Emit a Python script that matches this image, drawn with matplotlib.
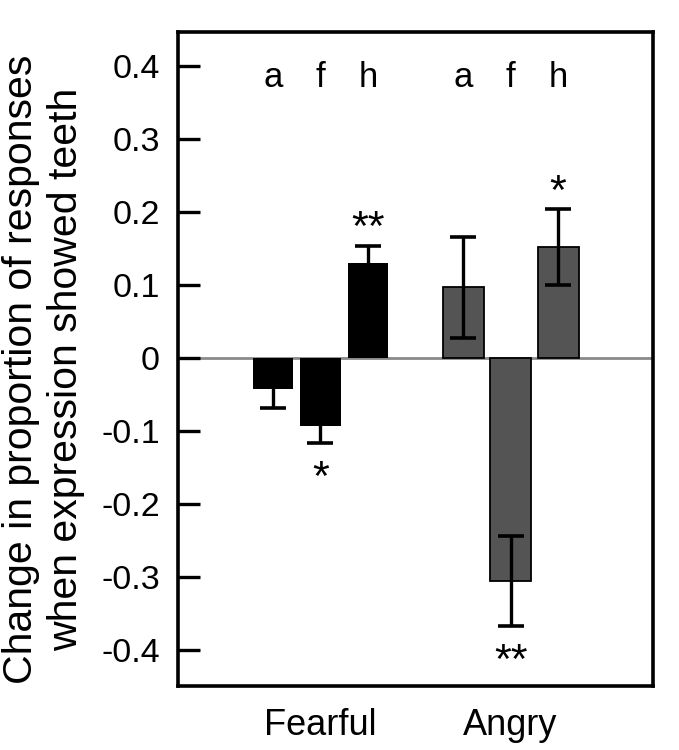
import numpy as np
import matplotlib
matplotlib.use("Agg")
import matplotlib.pyplot as plt

plt.rcParams['font.family'] = ['Liberation Sans', 'DejaVu Sans']

# data
groups = ["Fearful", "Angry"]
conditions = ["a", "f", "h"]
fearful_vals = [-0.043, -0.093, 0.131]
fearful_err = [0.025, 0.024, 0.023]
angry_vals = [0.097, -0.306, 0.152]
angry_err = [0.069, 0.062, 0.052]
fearful_stars = ["", "*", "**"]
angry_stars = ["", "**", "*"]

x_f = np.arange(3)
x_a = np.arange(3) + 4
width = 0.86

fig = plt.figure(figsize=(6.79, 7.5), dpi=100)
ax = fig.add_axes([0.262, 0.0853, 0.700, 0.8727])

ax.axhline(0, color='#8a8a8a', lw=2.0, zorder=1)

ax.bar(x_f, fearful_vals, width, color='black', zorder=2)
ax.bar(x_a, angry_vals, width, color='#545454', edgecolor='black', lw=1.3, zorder=2)

# inner half of the fearful error bars is hidden by the black bars
ekw = dict(fmt='none', ecolor='black', elinewidth=2.4, capsize=9.4, capthick=2.6, zorder=3)
ax.errorbar(x_f, fearful_vals, yerr=fearful_err, **ekw)
ax.errorbar(x_a, angry_vals, yerr=angry_err, **ekw)

for xs, vals, errs, stars in [(x_f, fearful_vals, fearful_err, fearful_stars),
                              (x_a, angry_vals, angry_err, angry_stars)]:
    for x, v, e, s in zip(xs, vals, errs, stars):
        if not s:
            continue
        y = v + e + 0.029 if v > 0 else v - e - 0.043
        ax.text(x, y, s, ha='center', va='center_baseline', fontsize=31)

for xs in (x_f, x_a):
    for x, c in zip(xs, conditions):
        ax.text(x, 0.372, c, ha='center', va='baseline', fontsize=25)

ax.set_xlim(-2, 8)
ax.set_ylim(-0.45, 0.448)
ax.set_yticks([0.4, 0.3, 0.2, 0.1, 0, -0.1, -0.2, -0.3, -0.4])
ax.set_yticklabels(["0.4", "0.3", "0.2", "0.1", "0", "-0.1", "-0.2", "-0.3", "-0.4"])
ax.set_xticks([x_f[1], x_a[1]])
ax.set_xticklabels(groups)

ax.tick_params(axis='y', direction='in', length=16, width=2.4, labelsize=24.5, pad=13)
ax.tick_params(axis='x', length=0, labelsize=26, pad=16)
for sp in ax.spines.values():
    sp.set_linewidth(2.6)

fig.text(0.064, 0.507, "Change in proportion of responses\nwhen expression showed teeth",
         rotation=90, ha='center', va='center', fontsize=29.5, linespacing=1.22)

fig.savefig("out.png", dpi=100)
